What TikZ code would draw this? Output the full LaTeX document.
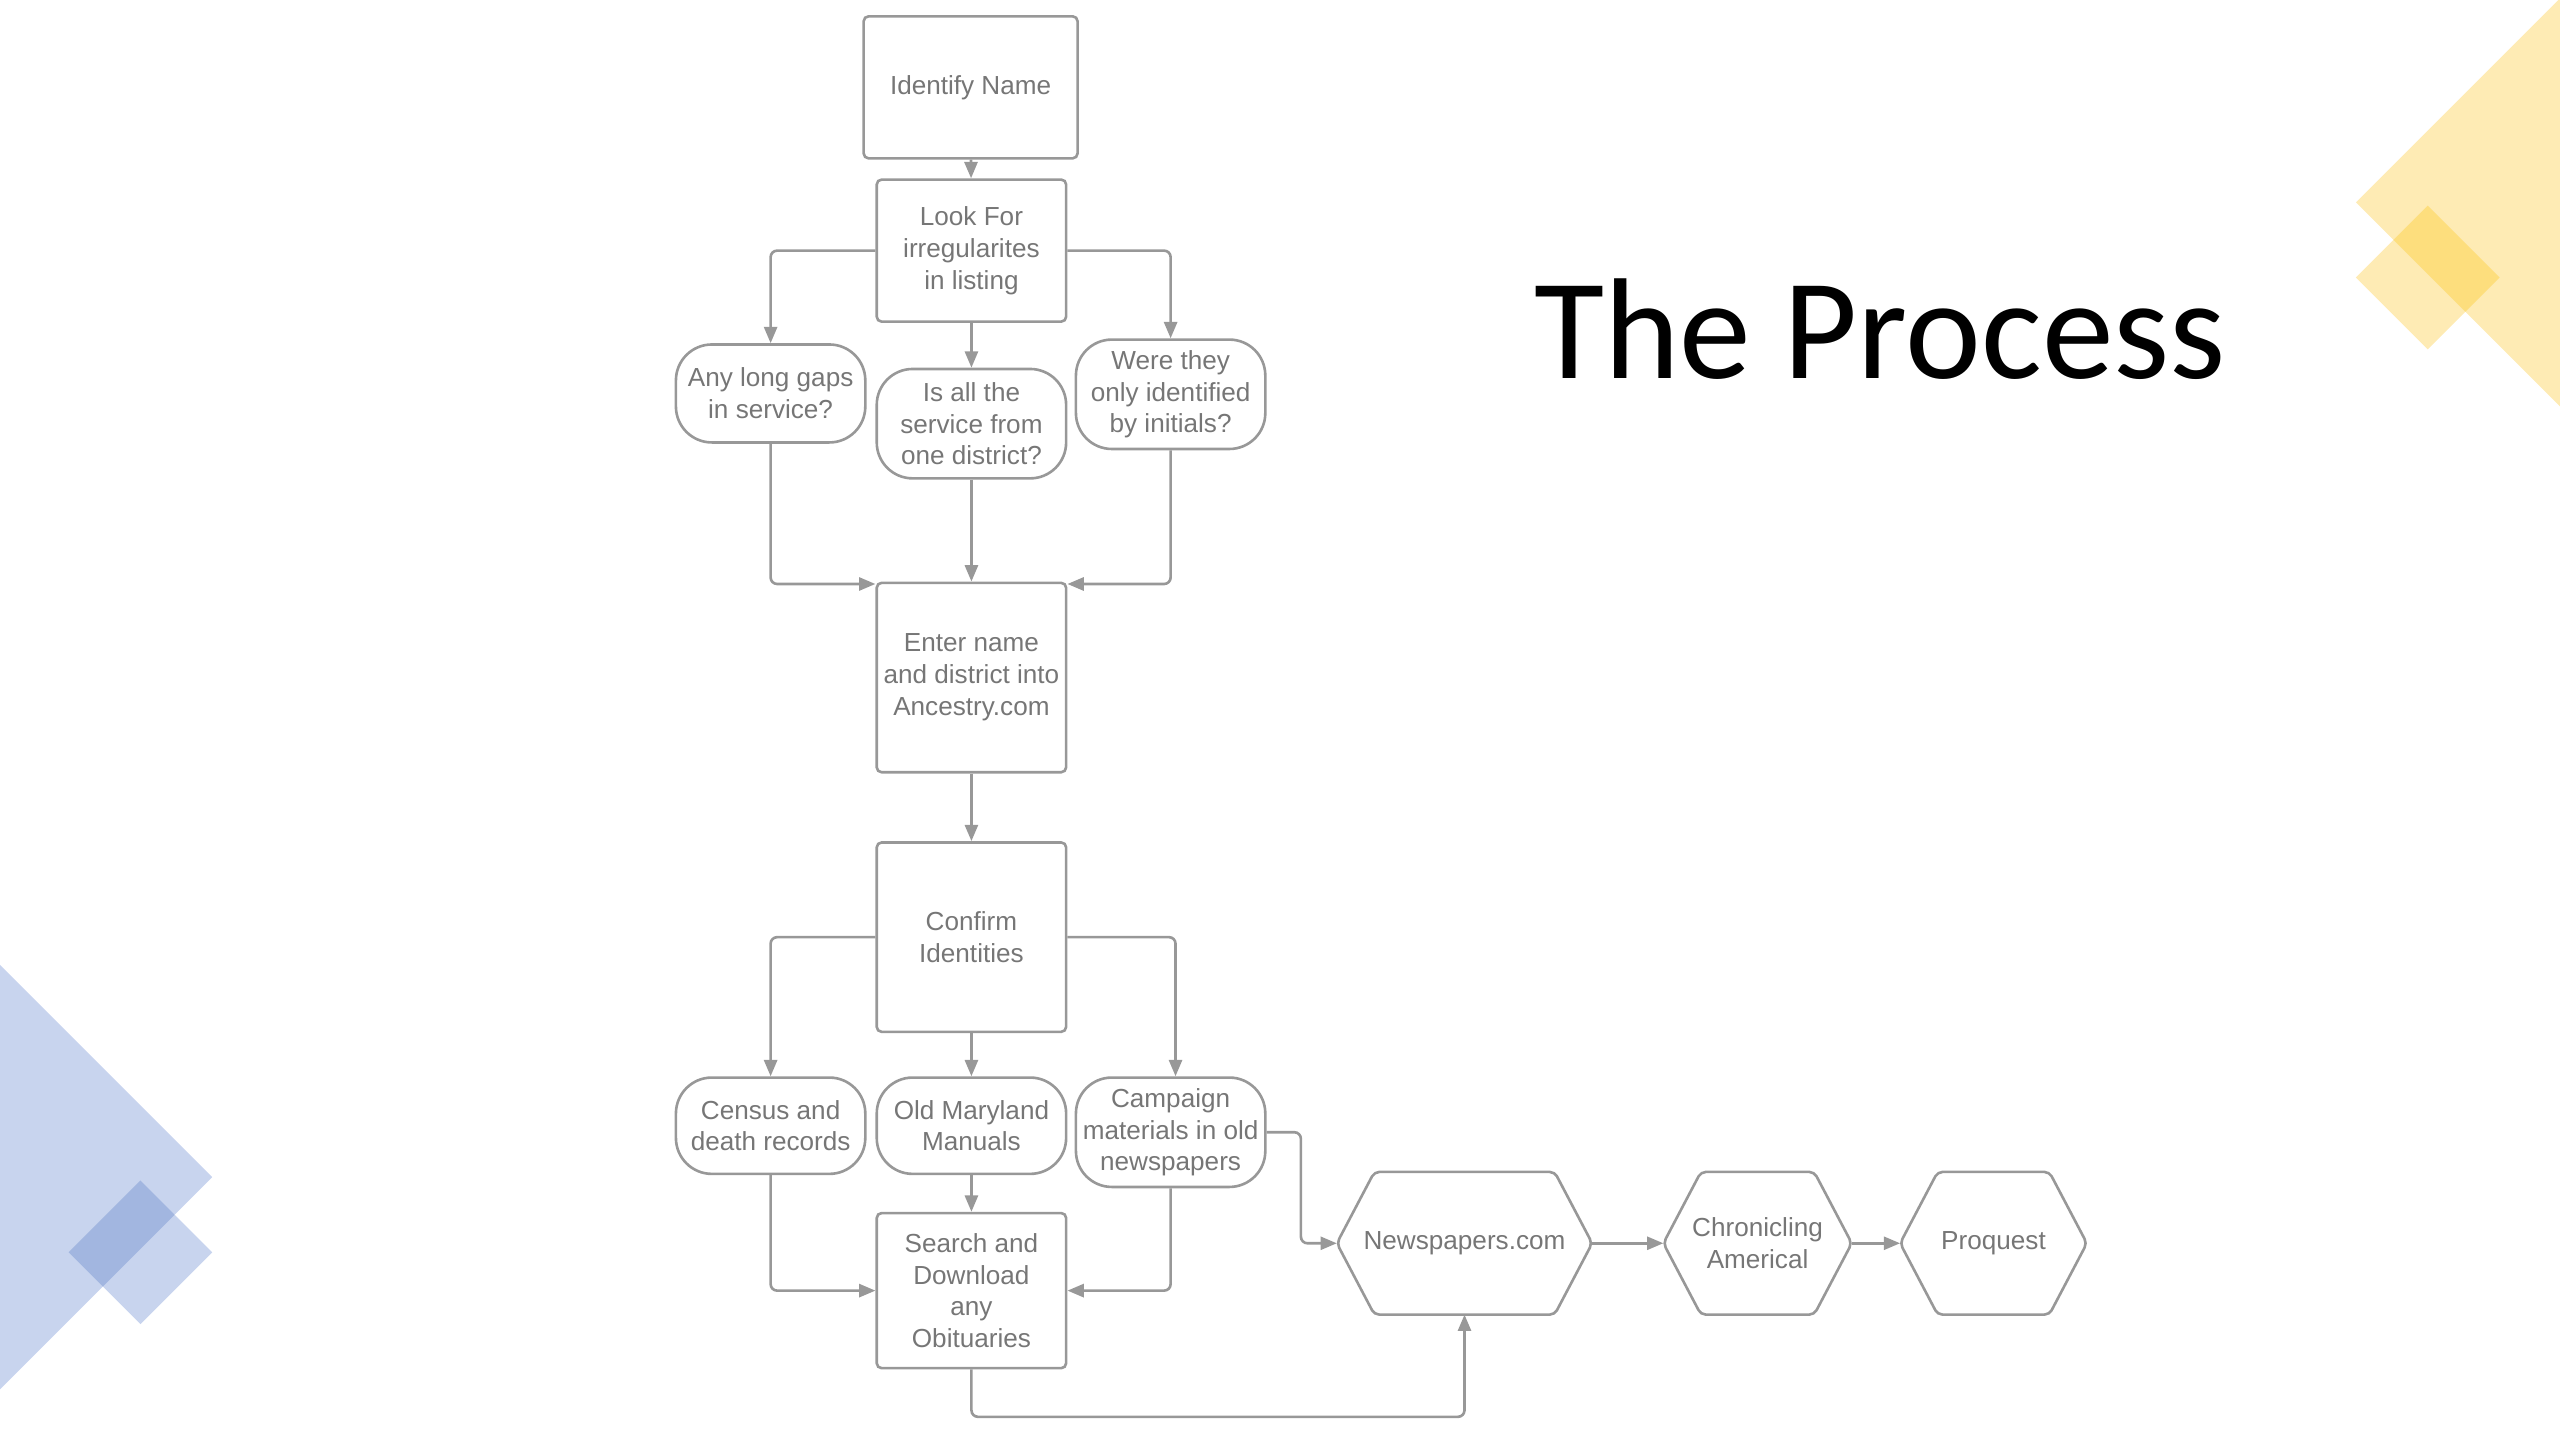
\documentclass[tikz,border=0pt]{standalone}
\usepackage{fontspec}
\setmainfont{Liberation Sans}
\newfontfamily\titlefont{Carlito}
\usetikzlibrary{arrows.meta}

\definecolor{linegray}{RGB}{152,152,152}
\definecolor{textgray}{RGB}{118,118,118}
\definecolor{goldlight}{RGB}{254,235,180}
\definecolor{golddark}{RGB}{253,222,125}
\definecolor{bluelight}{RGB}{200,212,238}
\definecolor{bluedark}{RGB}{162,182,224}

\tikzset{
    outline/.style={draw=linegray,line width=1.6pt},
    box/.style={outline,rounded corners=3pt,minimum width=116pt,minimum height=87pt,
        inner sep=2pt,align=center,text=textgray,font=\fontsize{16}{19.5}\selectfont},
    query/.style={box,rounded corners=22pt,minimum height=67pt},
    hexnode/.style={minimum height=87pt,inner sep=2pt,align=center,text=textgray,
        font=\fontsize{16}{19.5}\selectfont},
    flow/.style={draw=linegray,line width=1.6pt,rounded corners=4pt,
        -{Triangle[length=10pt,width=8pt]}},
}

\begin{document}
\begin{tikzpicture}[x=1pt,y=1pt]
    \useasboundingbox (0,0) rectangle (1568,-882);

    % corner decorations
    \begin{scope}
        \clip (0,0) rectangle (1568,-882);
        \fill[goldlight] (1443,-124) -- (1568,1) -- (1693,-124) -- (1568,-249) -- cycle;
        \fill[goldlight] (1443,-170) -- (1487,-126) -- (1531,-170) -- (1487,-214) -- cycle;
        \begin{scope}
            \clip (1443,-124) -- (1568,1) -- (1693,-124) -- (1568,-249) -- cycle;
            \fill[golddark] (1443,-170) -- (1487,-126) -- (1531,-170) -- (1487,-214) -- cycle;
        \end{scope}
        \fill[bluelight] (-130,-721) -- (0,-591) -- (130,-721) -- (0,-851) -- cycle;
        \fill[bluelight] (42,-767) -- (86,-723) -- (130,-767) -- (86,-811) -- cycle;
        \begin{scope}
            \clip (-130,-721) -- (0,-591) -- (130,-721) -- (0,-851) -- cycle;
            \fill[bluedark] (42,-767) -- (86,-723) -- (130,-767) -- (86,-811) -- cycle;
        \end{scope}
    \end{scope}

    \node[font=\titlefont\fontsize{88}{100}\selectfont,anchor=base,inner sep=0pt]
        (title) at (1151.5,-232) {The Process};

    % search steps
    \node[box,minimum width=131pt] (ident) at (594.5,-53.5) {Identify Name};
    \node[box] (look) at (595,-153.5) {Look For\\irregularites\\in listing};
    \node[query,minimum height=60pt] (gaps) at (472,-241) {Any long gaps\\in service?};
    \node[query] (onedist) at (595,-259.5) {Is all the\\service from\\one district?};
    \node[query] (initials) at (717,-241.5) {Were they\\only identified\\by initials?};
    \node[box,minimum height=116pt] (enter) at (595,-415) {Enter name\\and district into\\Ancestry.com};
    \node[box,minimum height=116pt] (confirm) at (595,-574) {Confirm\\Identities};
    \node[query,minimum height=59pt] (census) at (472,-689.5) {Census and\\death records};
    \node[query,minimum height=59pt] (manuals) at (595,-689.5) {Old Maryland\\Manuals};
    \node[query] (campaign) at (717,-693.5) {Campaign\\materials in old\\newspapers};
    \node[box,minimum height=95pt] (search) at (595,-790.5) {Search and\\Download\\any\\Obituaries};

    % newspaper archives
    \node[hexnode,minimum width=156pt] (news) at (897,-761.5) {Newspapers.com};
    \node[hexnode,minimum width=115pt] (chron) at (1076.5,-761.5) {Chronicling\\Americal};
    \node[hexnode,minimum width=114pt] (proq) at (1221,-761.5) {Proquest};
    \foreach \n in {news,chron,proq}
        \draw[outline,rounded corners=3pt] ([xshift=23pt]\n.north west) -- ([xshift=-23pt]\n.north east)
            -- (\n.east) -- ([xshift=-23pt]\n.south east) -- ([xshift=23pt]\n.south west)
            -- (\n.west) -- cycle;

    % connectors
    \draw[flow] (ident) -- (look);
    \draw[flow] (look.west) -| (gaps);
    \draw[flow] (look) -- (onedist);
    \draw[flow] (look.east) -| (initials);
    \draw[flow] (gaps) |- ([yshift=-1.5pt]enter.north west);
    \draw[flow] (onedist) -- (enter);
    \draw[flow] (initials) |- ([yshift=-1.5pt]enter.north east);
    \draw[flow] (enter) -- (confirm);
    \draw[flow] (confirm.west) -| (census);
    \draw[flow] (confirm) -- (manuals);
    \draw[flow] (confirm.east) -| ([xshift=3pt]campaign.north);
    \draw[flow] (census) |- (search);
    \draw[flow] (manuals) -- (search);
    \draw[flow] (campaign) |- (search);
    \draw[flow] (campaign.east) -- ++(21,0) |- (news.west);
    \draw[flow] (search.south) -- ++(0,-29) -| (news.south);
    \draw[flow] (news) -- (chron);
    \draw[flow] (chron) -- (proq);
\end{tikzpicture}
\end{document}
